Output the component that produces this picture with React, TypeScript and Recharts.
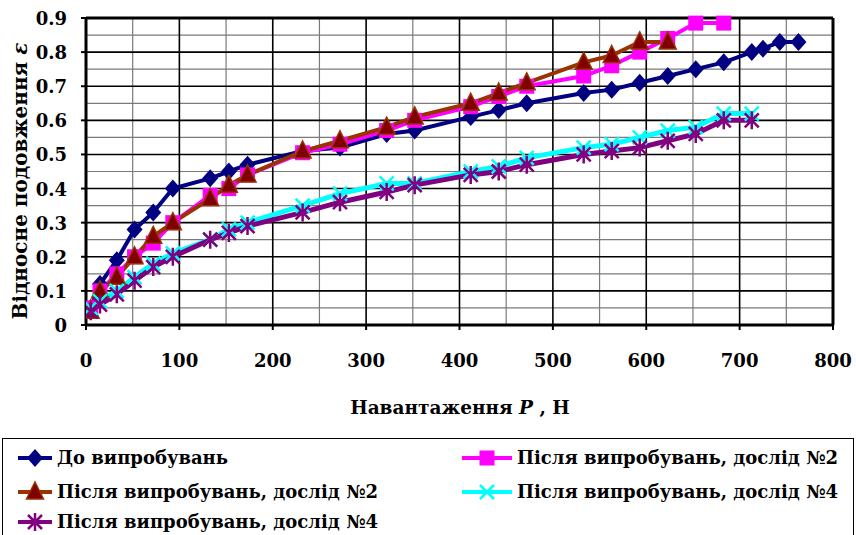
import React from 'react';
import { LineChart, Line, XAxis, YAxis, CartesianGrid, ReferenceLine, Label } from 'recharts';

// load P, N and relative elongation for each series
const loadBefore = [5, 15, 33, 52, 72, 93, 133, 153, 173, 232, 272, 322, 352, 412, 442, 472, 533, 563, 593, 623, 653, 683, 713, 725, 743, 763];
const strainBefore = [0.05, 0.12, 0.19, 0.28, 0.33, 0.4, 0.43, 0.45, 0.47, 0.51, 0.52, 0.56, 0.57, 0.61, 0.63, 0.65, 0.68, 0.69, 0.71, 0.73, 0.75, 0.77, 0.8, 0.81, 0.83, 0.83];

const loadAfter2a = [5, 15, 33, 52, 72, 93, 133, 153, 173, 232, 272, 322, 352, 412, 442, 472, 533, 563, 593, 623, 653, 683];
const strainAfter2a = [0.05, 0.1, 0.15, 0.2, 0.24, 0.3, 0.38, 0.4, 0.44, 0.505, 0.53, 0.57, 0.6, 0.64, 0.67, 0.7, 0.73, 0.76, 0.8, 0.84, 0.885, 0.885];

const loadAfter2b = [5, 15, 33, 52, 72, 93, 133, 153, 173, 232, 272, 322, 352, 412, 442, 472, 533, 563, 593, 623];
const strainAfter2b = [0.04, 0.1, 0.14, 0.2, 0.26, 0.3, 0.37, 0.41, 0.44, 0.51, 0.54, 0.58, 0.61, 0.65, 0.68, 0.71, 0.77, 0.79, 0.83, 0.83];

const loadAfter4a = [5, 15, 33, 52, 72, 93, 133, 153, 173, 232, 272, 322, 352, 412, 442, 472, 533, 563, 593, 623, 653, 683, 713];
const strainAfter4a = [0.05, 0.07, 0.1, 0.14, 0.18, 0.21, 0.25, 0.28, 0.3, 0.35, 0.385, 0.415, 0.415, 0.45, 0.465, 0.49, 0.52, 0.53, 0.55, 0.57, 0.58, 0.62, 0.62];

const loadAfter4b = [5, 15, 33, 52, 72, 93, 133, 153, 173, 232, 272, 322, 352, 412, 442, 472, 533, 563, 593, 623, 653, 683, 713];
const strainAfter4b = [0.04, 0.06, 0.09, 0.13, 0.17, 0.2, 0.25, 0.27, 0.29, 0.33, 0.36, 0.39, 0.41, 0.44, 0.45, 0.47, 0.5, 0.51, 0.52, 0.54, 0.56, 0.6, 0.6];

const seriesNames = [
  'До випробувань',
  'Після випробувань, дослід №2',
  'Після випробувань, дослід №2',
  'Після випробувань, дослід №4',
  'Після випробувань, дослід №4',
];

const xTicks = [0, 100, 200, 300, 400, 500, 600, 700, 800];
const yTicks = [0, 0.1, 0.2, 0.3, 0.4, 0.5, 0.6, 0.7, 0.8, 0.9];
const xMinor = [50, 150, 250, 350, 450, 550, 650, 750];
const yMinor = [0.05, 0.15, 0.25, 0.35, 0.45, 0.55, 0.65, 0.75, 0.85];

const toPoints = (xs: number[], ys: number[]) => xs.map((x, i) => ({ x, y: ys[i] }));

const FONT = "'DejaVu Serif', serif";
const textStyle = { fontFamily: FONT };

const NAVY = '#000080';
const MAGENTA = '#FF00FF';
const BROWN = '#993300';
const DARKRED = '#800000';
const CYAN = '#00FFFF';
const PURPLE = '#800080';

// marker shapes, drawn around (cx, cy)
const diamond = (cx: number, cy: number, k: any) => (
  <path key={k} d={`M${cx},${cy - 9}L${cx + 8},${cy}L${cx},${cy + 9}L${cx - 8},${cy}Z`} fill={NAVY} />
);
const square = (cx: number, cy: number, k: any) => (
  <rect key={k} x={cx - 7.5} y={cy - 7.5} width={15} height={15} fill={MAGENTA} />
);
const triangle = (cx: number, cy: number, k: any) => (
  <path key={k} d={`M${cx},${cy - 10}L${cx + 8.5},${cy + 7}L${cx - 8.5},${cy + 7}Z`} fill={DARKRED} stroke={BROWN} strokeWidth={1.5} />
);
const cross = (cx: number, cy: number, k: any) => (
  <path key={k} d={`M${cx - 7},${cy - 7}L${cx + 7},${cy + 7}M${cx + 7},${cy - 7}L${cx - 7},${cy + 7}`} stroke={CYAN} strokeWidth={2.5} />
);
const star = (cx: number, cy: number, k: any) => (
  <path key={k} d={`M${cx - 7},${cy - 7}L${cx + 7},${cy + 7}M${cx + 7},${cy - 7}L${cx - 7},${cy + 7}M${cx},${cy - 9}L${cx},${cy + 9}`} stroke={PURPLE} strokeWidth={2.5} />
);

const dotWith = (shape: any) => (p: any) => shape(p.cx, p.cy, `m${p.index}`);

const YTick = (p: any) => {
  const v = p.payload.value;
  return (
    <text x={p.x} y={p.y} dy={7} textAnchor="end" style={textStyle} fontWeight="bold" fontSize={18} fill="#000">
      {v === 0 ? '0' : v.toFixed(1)}
    </text>
  );
};

const XTitle = () => (
  <text x={460} y={414} textAnchor="middle" style={textStyle} fontWeight="bold" fontSize={18.5} fill="#000">
    Навантаження <tspan fontStyle="italic">P</tspan> , Н
  </text>
);

const YTitle = () => (
  <text x={27} y={181} transform="rotate(-90 27 181)" textAnchor="middle" style={textStyle} fontWeight="bold" fontSize={20} fill="#000">
    Відносне подовження <tspan fontStyle="italic">ε</tspan>
  </text>
);

const legendItems = [
  { name: seriesNames[0], color: NAVY, shape: diamond, left: 18, top: 458, w: 34 },
  { name: seriesNames[1], color: MAGENTA, shape: square, left: 462, top: 458, w: 50 },
  { name: seriesNames[2], color: BROWN, shape: triangle, left: 18, top: 492, w: 34 },
  { name: seriesNames[3], color: CYAN, shape: cross, left: 462, top: 492, w: 50 },
  { name: seriesNames[4], color: PURPLE, shape: star, left: 18, top: 522, w: 34 },
];

export default function App() {
  return (
    <div style={{ position: 'absolute', left: 0, top: 0, width: 856, height: 535, background: '#fff', overflow: 'hidden' }}>
      <LineChart width={856} height={430} margin={{ top: 18, right: 23, left: 0, bottom: 20 }}>
        <CartesianGrid stroke="#7a7a7a" strokeWidth={1.2} horizontalValues={yMinor} verticalValues={xMinor} />
        <CartesianGrid stroke="#000" strokeWidth={1.6} />
        <XAxis
          dataKey="x"
          type="number"
          domain={[0, 800]}
          ticks={xTicks}
          allowDataOverflow
          height={85}
          axisLine={{ stroke: '#000', strokeWidth: 3 }}
          tickLine={{ stroke: '#000', strokeWidth: 2 }}
          tickSize={5}
          tickMargin={24}
          tick={{ style: textStyle, fontWeight: 'bold', fontSize: 18, fill: '#000' }}
        >
          <Label content={<XTitle />} />
        </XAxis>
        <YAxis
          type="number"
          domain={[0, 0.9]}
          ticks={yTicks}
          width={86}
          axisLine={{ stroke: '#000', strokeWidth: 3 }}
          tickLine={{ stroke: '#000', strokeWidth: 2 }}
          tickSize={5}
          tickMargin={14}
          tick={<YTick />}
        >
          <Label content={<YTitle />} />
        </YAxis>
        <ReferenceLine y={0.9} stroke="#000" strokeWidth={3} />
        <ReferenceLine x={800} stroke="#000" strokeWidth={3} />
        <Line data={toPoints(loadBefore, strainBefore)} dataKey="y" name={seriesNames[0]} stroke={NAVY} strokeWidth={4} dot={dotWith(diamond)} activeDot={false} isAnimationActive={false} />
        <Line data={toPoints(loadAfter2a, strainAfter2a)} dataKey="y" name={seriesNames[1]} stroke={MAGENTA} strokeWidth={4} dot={dotWith(square)} activeDot={false} isAnimationActive={false} />
        <Line data={toPoints(loadAfter2b, strainAfter2b)} dataKey="y" name={seriesNames[2]} stroke={BROWN} strokeWidth={4} dot={dotWith(triangle)} activeDot={false} isAnimationActive={false} />
        <Line data={toPoints(loadAfter4a, strainAfter4a)} dataKey="y" name={seriesNames[3]} stroke={CYAN} strokeWidth={5} dot={dotWith(cross)} activeDot={false} isAnimationActive={false} />
        <Line data={toPoints(loadAfter4b, strainAfter4b)} dataKey="y" name={seriesNames[4]} stroke={PURPLE} strokeWidth={5} dot={dotWith(star)} activeDot={false} isAnimationActive={false} />
      </LineChart>
      <div style={{ position: 'absolute', left: 2, top: 438, width: 852, height: 120, border: '1px solid #000', boxSizing: 'border-box' }} />
      {legendItems.map((it, i) => (
        <div key={i} style={{ position: 'absolute', left: it.left, top: it.top - 14, height: 28, display: 'flex', alignItems: 'center' }}>
          <svg width={it.w} height={24} style={{ display: 'block' }}>
            <line x1={0} y1={12} x2={it.w} y2={12} stroke={it.color} strokeWidth={4} />
            {it.shape(it.w / 2, 12, 'l')}
          </svg>
          <span style={{ ...textStyle, marginLeft: 5, fontWeight: 'bold', fontSize: 18, color: '#000', whiteSpace: 'nowrap', lineHeight: '28px' }}>{it.name}</span>
        </div>
      ))}
    </div>
  );
}
